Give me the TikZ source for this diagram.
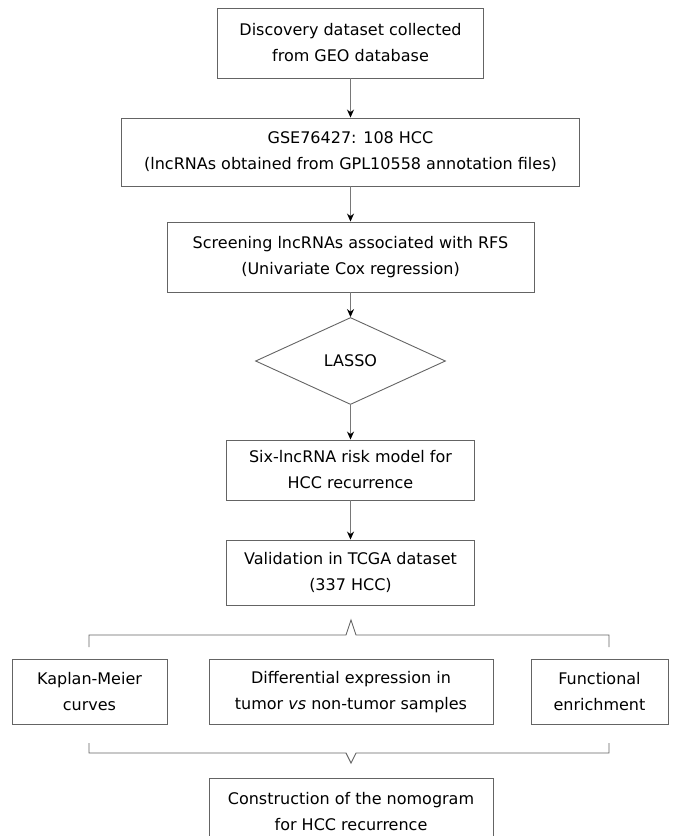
\documentclass[tikz,border=0pt]{standalone}
\usepackage{fontspec}
\setmainfont{DejaVu Sans}
\usetikzlibrary{shapes.geometric, arrows.meta}

\definecolor{boxgray}{RGB}{100,100,100}
\definecolor{linegray}{RGB}{120,120,120}

\begin{document}
\begin{tikzpicture}[x=1pt, y=-1pt, >={Stealth[length=8pt, width=7pt, black]},
    every node/.style={font=\fontsize{16}{26}\selectfont, align=center, inner sep=0pt},
    box/.style={draw=boxgray, line width=0.9pt, fill=white},
    link/.style={->, draw=linegray, line width=1pt},
    brace/.style={draw=boxgray, line width=0.9pt}]
    % AREA
    \useasboundingbox (0,0) rectangle (676,836);

    % 1. FLUSSO PRINCIPALE
    \node[box, minimum width=266, minimum height=70] (disc) at (350.5,43) {Discovery dataset collected\\from GEO database};
    \node[box, minimum width=458, minimum height=68] (gse) at (350.5,152) {GSE76427: 108 HCC\\(lncRNAs obtained from GPL10558 annotation files)};
    \node[box, minimum width=367, minimum height=70] (screen) at (350.5,257) {Screening lncRNAs associated with RFS\\(Univariate Cox regression)};
    \node[draw=boxgray, line width=0.9pt, diamond, minimum width=190, minimum height=87] (lasso) at (350.5,361) {LASSO};
    \node[box, minimum width=248, minimum height=60] (model) at (350.5,470) {Six-lncRNA risk model for\\HCC recurrence};
    \node[box, minimum width=248, minimum height=65] (valid) at (350.5,572.5) {Validation in TCGA dataset\\(337 HCC)};

    % Frecce
    \draw[link] (disc) -- (gse);
    \draw[link] (gse) -- (screen);
    \draw[link] (screen) -- (lasso);
    \draw[link] (lasso) -- (model);
    \draw[link] (model) -- (valid);

    % 2. PARENTESI SUPERIORE
    \draw[brace] (89,647) |- (346,635) -- (351,620) -- (356,635) -| (609,647);

    % 3. ANALISI
    \node[box, minimum width=155, minimum height=65] (km) at (89.5,691.5) {Kaplan-Meier\\curves};
    \node[box, minimum width=284, minimum height=65] (diff) at (351,692) {Differential expression in\\tumor \textit{vs} non-tumor samples};
    \node[box, minimum width=137, minimum height=65] (func) at (599.5,691.5) {Functional\\enrichment};

    % 4. PARENTESI INFERIORE
    \draw[brace] (89,743) |- (346,753) -- (351,763) -- (356,753) -| (609,743);

    % 5. NOMOGRAMMA
    \node[box, minimum width=284, minimum height=68] (nomo) at (351,812) {Construction of the nomogram\\for HCC recurrence};
\end{tikzpicture}
\end{document}
